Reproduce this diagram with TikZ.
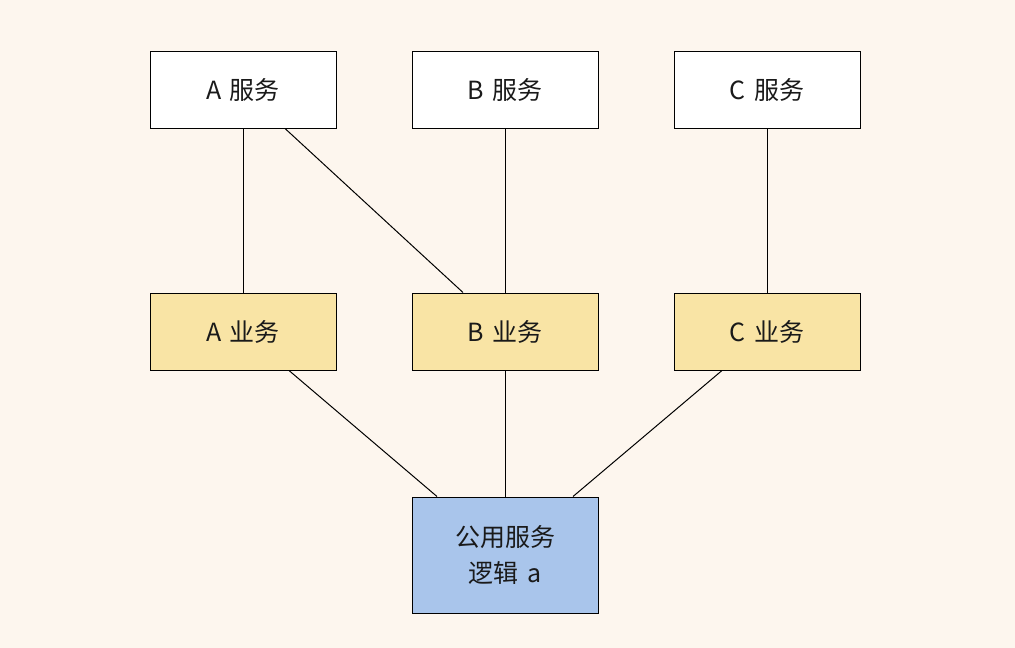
\documentclass[tikz,border=0pt]{standalone}
\usepackage{fontspec}
\setmainfont{Noto Sans CJK SC}
\definecolor{bgc}{HTML}{FDF6EE}
\definecolor{yel}{HTML}{F9E4A5}
\definecolor{blu}{HTML}{A9C5EB}
\definecolor{txt}{HTML}{1A1A1A}
\begin{document}
\begin{tikzpicture}[x=1pt,y=-1pt,
  box/.style={draw=black,line width=1pt,minimum width=186pt,minimum height=77pt,inner sep=0pt,font=\fontsize{25}{36}\selectfont,text=txt,align=center},
  wbox/.style={box,fill=white},
  ybox/.style={box,fill=yel},
  bbox/.style={box,fill=blu,minimum height=116pt},
  conn/.style={draw=black,line width=1pt}]
\fill[bgc] (0,0) rectangle (1015,648);
\useasboundingbox (0,0) rectangle (1015,648);
\node[wbox] (as) at (243,89.5) {A\hspace{0.1em} 服务};
\node[wbox] (bs) at (505,89.5) {B\hspace{0.1em} 服务};
\node[wbox] (cs) at (767,89.5) {C\hspace{0.1em} 服务};
\node[ybox] (ab) at (243,331.5) {A\hspace{0.1em} 业务};
\node[ybox] (bb) at (505,331.5) {B\hspace{0.1em} 业务};
\node[ybox] (cb) at (767,331.5) {C\hspace{0.1em} 业务};
\node[bbox] (pub) at (505,555) {公用服务\\逻辑\hspace{0.1em} a};
\draw[conn] (as.south) -- (ab.north);
\draw[conn] ([xshift=42pt]as.south) -- ([xshift=-42pt]bb.north);
\draw[conn] (bs.south) -- (bb.north);
\draw[conn] (cs.south) -- (cb.north);
\draw[conn] ([xshift=46pt]ab.south) -- ([xshift=-68pt]pub.north);
\draw[conn] (bb.south) -- (pub.north);
\draw[conn] ([xshift=-45pt]cb.south) -- ([xshift=68pt]pub.north);
\end{tikzpicture}
\end{document}
